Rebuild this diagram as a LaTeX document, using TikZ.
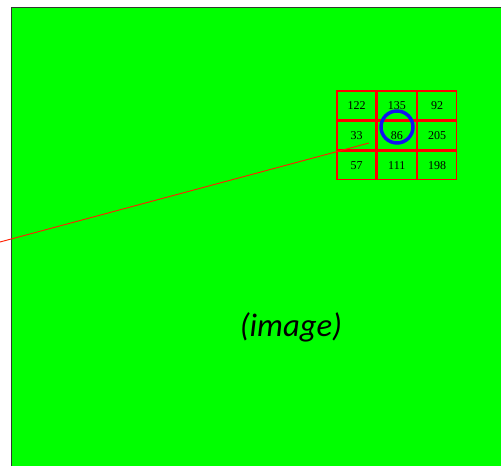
\documentclass[tikz,border=0pt]{standalone}
\usepackage{fontspec}
\newfontfamily\labelfont{Carlito}
\newfontfamily\cellfont{Liberation Serif}
\usetikzlibrary{positioning}
\definecolor{imggreen}{HTML}{00FF00}
\definecolor{framegray}{HTML}{303830}
\definecolor{ringblue}{HTML}{1010F0}
\definecolor{pointred}{HTML}{FF2000}
\tikzset{
  picframe/.style={draw=framegray, line width=1.4pt, fill=imggreen},
  cell/.style={draw=red, line width=1pt, minimum width=29.2pt, minimum height=21.5pt, inner sep=0pt, font=\cellfont\fontsize{9}{9}\selectfont},
  ring/.style={draw=ringblue, circle, line width=2.6pt, minimum size=24pt, inner sep=0pt},
  pointer/.style={draw=pointred, line width=0.7pt},
  caption/.style={font=\labelfont\itshape\fontsize{24.5}{28}\selectfont}
}
\begin{document}
\begin{tikzpicture}[x=0.75pt, y=-0.75pt]
  \clip (0,0) rectangle (501,466);
  % image area
  \path[picframe] (11.5,7.5) rectangle (520,490);
  \node[caption] (img) at (291,327) {(image)};

  % 3x3 pixel grid
  \node[cell] (c11) at (356.5,105.5) {122};
  \node[cell, right=0pt of c11] (c12) {135};
  \node[cell, right=0pt of c12] (c13) {92};
  \node[cell, below=0pt of c11] (c21) {33};
  \node[cell, right=0pt of c21] (c22) {86};
  \node[cell, right=0pt of c22] (c23) {205};
  \node[cell, below=0pt of c21] (c31) {57};
  \node[cell, right=0pt of c31] (c32) {111};
  \node[cell, right=0pt of c32] (c33) {198};

  % highlight of the centre pixel
  \node[ring] (mark) at (397,127) {};

  % pointer from outside
  \coordinate (src) at (0,242);
  \coordinate (tip) at (369,143);
  \draw[pointer] (src) -- (tip);
\end{tikzpicture}
\end{document}
